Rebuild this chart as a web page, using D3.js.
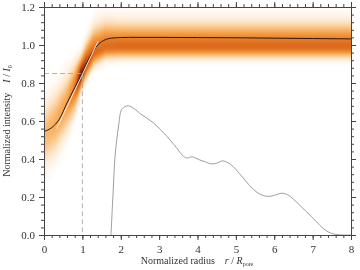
<!DOCTYPE html>
<html>
<head>
<meta charset="utf-8">
<script src="https://cdn.jsdelivr.net/npm/d3@7"></script>
<style>
  body { margin: 0; background: #fff; }
  #wrap { position: relative; width: 360px; height: 270px; }
  #heat, #chart { position: absolute; left: 0; top: 0; }
  text { font-family: "Liberation Serif", "DejaVu Serif", serif; fill: #333; }
</style>
</head>
<body>
<div id="wrap">
  <canvas id="heat" width="360" height="270"></canvas>
  <svg id="chart" width="360" height="270"></svg>
</div>
<script>
// mean intensity profile (black line)
const profileR = [0, 0.2, 0.4, 0.6, 0.8, 1.0, 1.2, 1.4, 1.6, 1.8, 2.2, 3, 4, 5, 6, 7, 8];
const profileV = [0.545, 0.565, 0.61, 0.695, 0.775, 0.855, 0.94, 1.0, 1.028, 1.037, 1.04, 1.04, 1.039, 1.038, 1.036, 1.034, 1.032];

// linear fit (thin white line)
const fitR = [0.33, 1.41];
const fitV = [0.56, 1.02];

// pore size distribution (grey line)
const poreR = [1.745, 1.8, 1.85, 1.94, 2.02, 2.1, 2.2, 2.35, 2.5, 2.85, 3.2, 3.45, 3.63, 3.73, 3.85, 3.95, 4.06, 4.2, 4.37, 4.5, 4.65, 4.8, 4.93, 5.15, 5.36, 5.55, 5.76, 5.93, 6.05, 6.19, 6.35, 6.49, 6.7, 6.93, 7.1, 7.27, 7.4, 7.53, 7.65, 7.8, 8.0];
const poreV = [0.0, 0.22, 0.41, 0.57, 0.66, 0.675, 0.68, 0.665, 0.64, 0.59, 0.52, 0.46, 0.415, 0.405, 0.412, 0.405, 0.395, 0.385, 0.374, 0.378, 0.39, 0.38, 0.36, 0.31, 0.26, 0.225, 0.205, 0.205, 0.212, 0.22, 0.212, 0.19, 0.15, 0.105, 0.07, 0.035, 0.017, 0.006, 0.002, 0.0, 0.0];

// density band of individual profiles (orange cloud)
const bandR = [0, 0.3, 0.6, 0.8, 0.95, 1.1, 1.3, 1.6, 2.0, 3, 4, 5, 6, 7, 8];
const bandCenter = [0.52, 0.59, 0.69, 0.77, 0.84, 0.9, 0.96, 0.99, 0.992, 0.992, 0.992, 0.992, 0.992, 0.992, 0.992];
const bandSigmaUp = [0.1, 0.1, 0.09, 0.075, 0.055, 0.065, 0.08, 0.08, 0.075, 0.075, 0.075, 0.075, 0.075, 0.075, 0.075];
const bandSigmaDown = [0.1, 0.1, 0.09, 0.075, 0.05, 0.045, 0.042, 0.038, 0.036, 0.036, 0.036, 0.036, 0.036, 0.036, 0.036];
const bandPeak = [0.33, 0.37, 0.43, 0.62, 0.98, 0.82, 0.68, 0.66, 0.68, 0.68, 0.68, 0.68, 0.68, 0.68, 0.68];

const xTicks = [0, 1, 2, 3, 4, 5, 6, 7, 8];
const yTicks = [0, 0.2, 0.4, 0.6, 0.8, 1.0, 1.2];
const threshold = { r: 1, v: 0.85 };

const margin = { top: 7, right: 9, bottom: 35, left: 44 };
const width = 360, height = 270;

const x = d3.scaleLinear().domain([0, 8]).range([margin.left, width - margin.right]);
const y = d3.scaleLinear().domain([0, 1.2]).range([height - margin.bottom, margin.top]);

// heat map on canvas
const centerAt = d3.scaleLinear().domain(bandR).range(bandCenter).clamp(true);
const upAt = d3.scaleLinear().domain(bandR).range(bandSigmaUp).clamp(true);
const downAt = d3.scaleLinear().domain(bandR).range(bandSigmaDown).clamp(true);
const peakAt = d3.scaleLinear().domain(bandR).range(bandPeak).clamp(true);

const colorScale = d3.scaleLinear()
  .domain([0, 0.15, 0.4, 0.65, 0.82, 1])
  .range(["#ffffff", "#fde4c6", "#f8a850", "#e2721f", "#b9461a", "#5e1a0a"])
  .clamp(true);

const ctx = document.getElementById("heat").getContext("2d");
const x0 = Math.round(x(0)), x1 = Math.round(x(8));
const y0 = Math.round(y(1.2)), y1 = Math.round(y(0));
for (let px = x0; px < x1; px++) {
  const r = x.invert(px + 0.5);
  const c = centerAt(r), su = upAt(r), sd = downAt(r), pk = peakAt(r);
  for (let py = y0; py < y1; py++) {
    const v = y.invert(py + 0.5);
    const d = v - c;
    const s = d > 0 ? su : sd;
    const a = pk * Math.exp(-(d * d) / (2 * s * s));
    if (a < 0.01) continue;
    ctx.fillStyle = colorScale(a);
    ctx.fillRect(px, py, 1, 1);
  }
}

const svg = d3.select("#chart");

// dashed guide lines
svg.append("path")
  .attr("d", `M${x(0)},${y(threshold.v)}H${x(threshold.r)}V${y(0)}`)
  .attr("fill", "none")
  .attr("stroke", "#aaa")
  .attr("stroke-width", 0.9)
  .attr("stroke-dasharray", "5,3");

svg.append("path")
  .datum(d3.zip(poreR, poreV))
  .attr("d", d3.line().x((d) => x(d[0])).y((d) => y(d[1])).curve(d3.curveCatmullRom))
  .attr("fill", "none")
  .attr("stroke", "#939393")
  .attr("stroke-width", 0.9);

svg.append("path")
  .datum(d3.zip(profileR, profileV))
  .attr("d", d3.line().x((d) => x(d[0])).y((d) => y(d[1])).curve(d3.curveMonotoneX))
  .attr("fill", "none")
  .attr("stroke", "#2a1a10")
  .attr("stroke-width", 1);

svg.append("path")
  .datum(d3.zip(fitR, fitV))
  .attr("d", d3.line().x((d) => x(d[0])).y((d) => y(d[1])))
  .attr("fill", "none")
  .attr("stroke", "#fff4e2")
  .attr("stroke-width", 0.9);

// axes: outward ticks on all four sides
const axisColor = "#444";
function drawAxis(axis, transform) {
  const g = svg.append("g").attr("transform", transform).call(axis);
  g.select(".domain").attr("stroke", axisColor);
  g.selectAll(".tick line").attr("stroke", axisColor);
  return g;
}
const xMinor = d3.range(0, 8.001, 0.2);
const yMinor = d3.range(0, 1.2001, 0.04);

drawAxis(d3.axisBottom(x).tickValues(xMinor).tickSize(3).tickFormat(""), `translate(0,${y(0)})`);
drawAxis(d3.axisBottom(x).tickValues(xTicks).tickSize(5).tickPadding(5).tickFormat(d3.format("d")), `translate(0,${y(0)})`)
  .selectAll("text").attr("font-size", 11).attr("fill", "#333");
drawAxis(d3.axisTop(x).tickValues(xMinor).tickSize(3).tickFormat(""), `translate(0,${y(1.2)})`);
drawAxis(d3.axisTop(x).tickValues(xTicks).tickSize(5).tickFormat(""), `translate(0,${y(1.2)})`);

drawAxis(d3.axisLeft(y).tickValues(yMinor).tickSize(3).tickFormat(""), `translate(${x(0)},0)`);
drawAxis(d3.axisLeft(y).tickValues(yTicks).tickSize(5).tickPadding(4).tickFormat(d3.format(".1f")), `translate(${x(0)},0)`)
  .selectAll("text").attr("font-size", 11).attr("fill", "#333");
drawAxis(d3.axisRight(y).tickValues(yMinor).tickSize(3).tickFormat(""), `translate(${x(8)},0)`);
drawAxis(d3.axisRight(y).tickValues(yTicks).tickSize(5).tickFormat(""), `translate(${x(8)},0)`);

svg.selectAll(".tick text").style("font-family", '"Liberation Serif", serif');

// axis titles
const xTitle = svg.append("text")
  .attr("x", 197)
  .attr("y", 264)
  .attr("text-anchor", "middle")
  .attr("font-size", 10);
xTitle.append("tspan").text("Normalized radius\u2003");
xTitle.append("tspan").attr("font-style", "italic").text("r");
xTitle.append("tspan").text(" / ");
xTitle.append("tspan").attr("font-style", "italic").text("R");
xTitle.append("tspan").attr("font-size", 6).attr("dy", 2).text("pore");

const yTitle = svg.append("text")
  .attr("transform", `translate(10,${y(0.6)}) rotate(-90)`)
  .attr("text-anchor", "middle")
  .attr("font-size", 10);
yTitle.append("tspan").text("Normalized intensity\u2003");
yTitle.append("tspan").attr("font-style", "italic").text("I");
yTitle.append("tspan").text(" / ");
yTitle.append("tspan").attr("font-style", "italic").text("I");
yTitle.append("tspan").attr("font-size", 6).attr("dy", 2).text("0");
</script>
</body>
</html>
